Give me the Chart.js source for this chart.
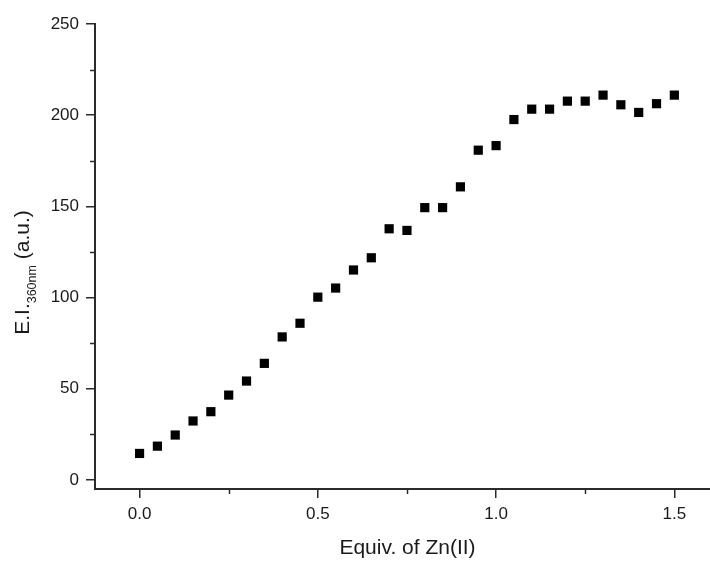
<!DOCTYPE html>
<html><head><meta charset="utf-8">
<script src="https://cdn.jsdelivr.net/npm/chart.js@4"></script>
<style>html,body{margin:0;padding:0;background:#fff}</style>
</head><body>
<canvas id="c" width="710" height="561"></canvas>
<script>
const equivZn = [0,0.05,0.1,0.15,0.2,0.25,0.3,0.35,0.4,0.45,0.5,0.55,0.6,0.65,0.7,0.75,0.8,0.85,0.9,0.95,1.0,1.05,1.1,1.15,1.2,1.25,1.3,1.35,1.4,1.45,1.5];
const intensity = [14.5,18.5,24.6,32.3,37.4,46.5,54.2,63.9,78.4,85.9,100.2,105.2,115.1,121.8,137.7,136.8,149.3,149.3,160.7,180.8,183.3,197.6,203.3,203.3,207.7,207.7,211,205.7,201.5,206.3,211];
const xMajorTicks = [0,0.5,1,1.5];
const xMinorTicks = [0.25,0.75,1.25];
const yMajorTicks = [0,50,100,150,200,250];
const yMinorTicks = [25,75,125,175,225];
const xTitle = 'Equiv. of Zn(II)';
const yTitleMain = 'E.I.';
const yTitleSub = '360nm';
const yTitleUnit = ' (a.u.)';

const FONT = '"Liberation Sans", Arial, sans-serif';
const AXIS = '#2b2b2b';
const TEXT = '#1a1a1a';

const points = equivZn.map((x, i) => ({x, y: intensity[i]}));

const extras = {
  id: 'extras',
  afterDraw(chart) {
    const ctx = chart.ctx;
    const xs = chart.scales.x, ys = chart.scales.y;
    const ca = chart.chartArea;
    ctx.save();
    ctx.strokeStyle = AXIS;
    ctx.lineWidth = 1.5;
    xMinorTicks.forEach(v => {
      const px = Math.round(xs.getPixelForValue(v)) + 0.5;
      ctx.beginPath(); ctx.moveTo(px, ca.bottom); ctx.lineTo(px, ca.bottom + 5); ctx.stroke();
    });
    yMinorTicks.forEach(v => {
      const py = Math.round(ys.getPixelForValue(v)) + 0.5;
      ctx.beginPath(); ctx.moveTo(ca.left, py); ctx.lineTo(ca.left - 5, py); ctx.stroke();
    });
    ctx.fillStyle = TEXT;
    ctx.font = '21px ' + FONT;
    ctx.textAlign = 'center';
    ctx.textBaseline = 'alphabetic';
    ctx.fillText(xTitle, 407.5, 554);
    ctx.save();
    ctx.translate(29, 272.5);
    ctx.rotate(-Math.PI / 2);
    ctx.textAlign = 'left';
    const mainFont = '21px ' + FONT, subFont = '12.5px ' + FONT;
    ctx.font = mainFont; const w1 = ctx.measureText(yTitleMain).width;
    ctx.font = subFont; const w2 = ctx.measureText(yTitleSub).width;
    ctx.font = mainFont; const w3 = ctx.measureText(yTitleUnit).width;
    let x0 = -(w1 + w2 + w3) / 2;
    ctx.font = mainFont; ctx.fillText(yTitleMain, x0, 0); x0 += w1;
    ctx.font = subFont; ctx.fillText(yTitleSub, x0, 7); x0 += w2;
    ctx.font = mainFont; ctx.fillText(yTitleUnit, x0, 0);
    ctx.restore();
    ctx.restore();
  }
};

new Chart(document.getElementById('c'), {
  type: 'scatter',
  data: {
    datasets: [{
      data: points,
      pointStyle: 'rect',
      pointRadius: 6.5,
      pointHoverRadius: 6.5,
      backgroundColor: '#000',
      borderColor: '#000',
      borderWidth: 0
    }]
  },
  options: {
    responsive: false,
    animation: false,
    devicePixelRatio: 1,
    events: [],
    layout: {autoPadding: false, padding: {top: 24, right: 0, left: 0, bottom: 0}},
    plugins: {legend: {display: false}, tooltip: {enabled: false}, title: {display: false}},
    scales: {
      x: {
        type: 'linear',
        min: -0.125, max: 1.6,
        afterBuildTicks: s => { s.ticks = xMajorTicks.map(v => ({value: v})); },
        afterFit: s => { s.height = 72; s.paddingRight = 0; s.paddingLeft = 0; },
        grid: {display: true, drawOnChartArea: false, drawTicks: true, tickLength: 9, color: AXIS, lineWidth: 1.5},
        border: {display: true, color: AXIS, width: 2},
        ticks: {
          padding: 6, color: TEXT, font: {family: FONT, size: 17}, maxRotation: 0,
          callback: v => Number(v).toFixed(1)
        }
      },
      y: {
        type: 'linear',
        min: -5, max: 250,
        afterBuildTicks: s => { s.ticks = yMajorTicks.map(v => ({value: v})); },
        afterFit: s => { s.width = 95; },
        grid: {display: true, drawOnChartArea: false, drawTicks: true, tickLength: 9, color: AXIS, lineWidth: 1.5},
        border: {display: true, color: AXIS, width: 2},
        ticks: {padding: 7, color: TEXT, font: {family: FONT, size: 17}, callback: v => String(v)}
      }
    }
  },
  plugins: [extras]
});
</script>
</body></html>
